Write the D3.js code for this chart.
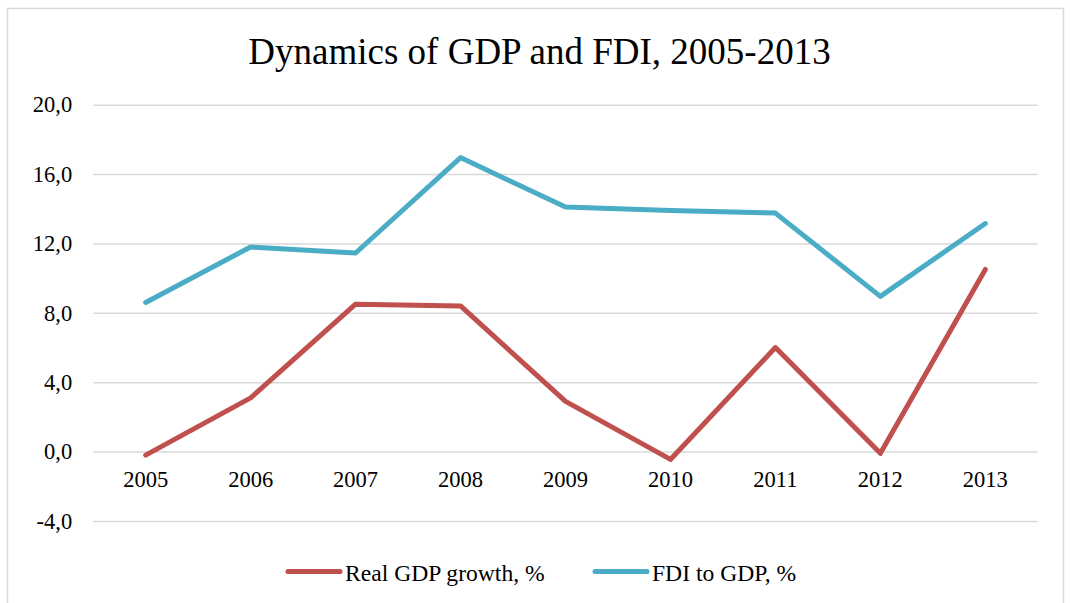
<!DOCTYPE html>
<html><head><meta charset="utf-8">
<script src="https://cdn.jsdelivr.net/npm/d3@7"></script>
<style>html,body{margin:0;padding:0;background:#fff;}svg{display:block;}</style>
</head><body>
<script>
const years = ["2005","2006","2007","2008","2009","2010","2011","2012","2013"];
const gdpGrowth = [-0.2, 3.1, 8.5, 8.4, 2.9, -0.45, 6.0, -0.1, 10.5];
const fdiToGdp = [8.6, 11.8, 11.45, 16.95, 14.1, 13.9, 13.75, 8.95, 13.15];
const yTicks = [-4, 0, 4, 8, 12, 16, 20];
const seriesNames = ["Real GDP growth, %", "FDI to GDP, %"];
const seriesColors = ["#c0504d", "#4bacc6"];
const title = "Dynamics of GDP and FDI, 2005-2013";

const W = 1070, H = 603;
const svg = d3.select("body").append("svg").attr("width", W).attr("height", H);
const font = "'Liberation Serif', 'Times New Roman', serif";

svg.append("rect").attr("x", 7.5).attr("y", 8.5).attr("width", 1056).attr("height", 640)
  .attr("fill", "#fff").attr("stroke", "#d9d9d9").attr("stroke-width", 1.5);

svg.append("text").attr("x", 539.5).attr("y", 63.5).attr("text-anchor", "middle")
  .attr("font-family", font).attr("font-size", 37).attr("fill", "#000").text(title);

const x = d3.scaleBand().domain(years).range([93.2, 1037.8]);
const y = d3.scaleLinear().domain([-4, 20]).range([521, 104.7]);

// gridlines + y labels
const yAxis = d3.axisLeft(y).tickValues(yTicks).tickSize(-(1037.8 - 93.2))
  .tickFormat(d => d3.format(".1f")(d).replace("\u2212", "-").replace(".", ","));
const gy = svg.append("g").attr("transform", "translate(93.2,0)").call(yAxis);
gy.select(".domain").remove();
gy.selectAll(".tick line").attr("stroke", "#d9d9d9").attr("stroke-width", 1.5);
gy.selectAll(".tick text").attr("x", -21).attr("font-family", font).attr("font-size", 22.5).attr("fill", "#000");

// x axis labels below the zero line
const xAxis = d3.axisBottom(x).tickSize(0).tickPadding(0);
const gx = svg.append("g").attr("transform", `translate(0,${y(0)})`).call(xAxis);
gx.select(".domain").remove();
gx.selectAll(".tick text").attr("dy", 0).attr("y", 35.8).attr("font-family", font).attr("font-size", 22.5).attr("fill", "#000");

const line = d3.line().x((d, i) => x(years[i]) + x.bandwidth() / 2).y(d => y(d));
[gdpGrowth, fdiToGdp].forEach((s, k) => {
  svg.append("path").datum(s).attr("d", line).attr("fill", "none")
    .attr("stroke", seriesColors[k]).attr("stroke-width", 5)
    .attr("stroke-linecap", "round").attr("stroke-linejoin", "round");
});

// legend
const legendX = [288, 595];
seriesNames.forEach((n, k) => {
  const g = svg.append("g").attr("transform", `translate(${legendX[k]},571.5)`);
  g.append("line").attr("x1", 0).attr("x2", 52).attr("y1", 0).attr("y2", 0)
    .attr("stroke", seriesColors[k]).attr("stroke-width", 5).attr("stroke-linecap", "round");
  g.append("text").attr("x", 57).attr("y", 9).attr("font-family", font).attr("font-size", 23.6)
    .attr("fill", "#000").text(n);
});
</script>
</body></html>
